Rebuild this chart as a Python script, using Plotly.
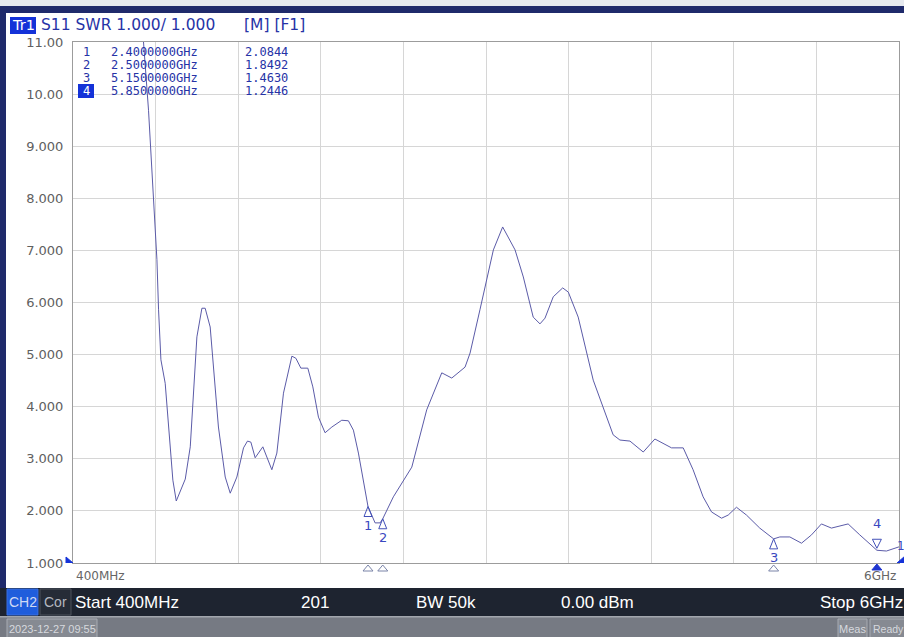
import plotly.graph_objects as go

# ---------------- data ----------------
freq_ghz = [0.40, 0.60, 0.80, 0.878, 0.912, 0.969, 0.980, 0.996, 1.025, 1.077,
            1.100, 1.161, 1.195, 1.240, 1.274, 1.296, 1.330, 1.386, 1.432, 1.466,
            1.511, 1.556, 1.583, 1.606, 1.635, 1.687, 1.748, 1.782, 1.827, 1.884,
            1.911, 1.945, 1.992, 2.026, 2.064, 2.109, 2.155, 2.222, 2.267, 2.301,
            2.335, 2.400, 2.448, 2.482, 2.500, 2.572, 2.697, 2.798, 2.900, 2.968,
            3.058, 3.092, 3.159, 3.250, 3.313, 3.397, 3.453, 3.520, 3.566, 3.600,
            3.656, 3.720, 3.758, 3.825, 3.927, 4.062, 4.108, 4.176, 4.266, 4.345,
            4.458, 4.537, 4.604, 4.672, 4.729, 4.797, 4.842, 4.898, 4.966, 5.056,
            5.150, 5.192, 5.260, 5.339, 5.407, 5.474, 5.542, 5.655, 5.734, 5.850,
            5.915, 6.000]
swr = [20.0, 16.0, 12.5, 11.0, 9.69, 6.82, 5.86, 4.90, 4.45, 2.59,
       2.19, 2.61, 3.23, 5.34, 5.89, 5.89, 5.53, 3.61, 2.65, 2.34,
       2.65, 3.21, 3.34, 3.32, 3.02, 3.23, 2.79, 3.11, 4.26, 4.97,
       4.93, 4.74, 4.74, 4.38, 3.80, 3.50, 3.61, 3.74, 3.73, 3.55,
       3.11, 2.0844, 1.77, 1.77, 1.8492, 2.27, 2.84, 3.94, 4.65, 4.55,
       4.76, 5.03, 5.86, 7.01, 7.45, 7.01, 6.49, 5.72, 5.59, 5.70,
       6.11, 6.28, 6.20, 5.72, 4.51, 3.46, 3.36, 3.34, 3.13, 3.38,
       3.21, 3.21, 2.79, 2.27, 1.98, 1.86, 1.92, 2.07, 1.92, 1.67,
       1.463, 1.50, 1.50, 1.38, 1.54, 1.75, 1.67, 1.75, 1.54, 1.2446,
       1.23, 1.31]

marker_ids = ["1", "2", "3", "4"]
marker_freq = [2.40, 2.50, 5.15, 5.85]
marker_swr = [2.0844, 1.8492, 1.4630, 1.2446]
marker_freq_text = ["2.4000000GHz", "2.5000000GHz", "5.1500000GHz", "5.8500000GHz"]
marker_swr_text = ["2.0844", "1.8492", "1.4630", "1.2446"]
active_marker = "4"

y_ticks = [1, 2, 3, 4, 5, 6, 7, 8, 9, 10, 11]
y_tick_labels = ["1.000", "2.000", "3.000", "4.000", "5.000", "6.000",
                 "7.000", "8.000", "9.000", "10.00", "11.00"]
x_start, x_stop, x_div = 0.4, 6.0, 10
y_ref = 1.0

header_title = "S11 SWR 1.000/ 1.000"
header_flags = "[M] [F1]"
start_label, stop_label = "400MHz", "6GHz"
status_items = ["Start 400MHz", "201", "BW 50k", "0.00 dBm", "Stop 6GHz"]
timestamp = "2023-12-27 09:55"

# ---------------- geometry ----------------
W, H = 904, 637
L, R, T, B = 73, 899, 42, 563


def px(x):
    return (x - L) / (R - L)


def py(y):
    return (B - y) / (B - T)


SANS = "DejaVu Sans"
ARIAL = "Liberation Sans"
MONO = "DejaVu Sans Mono"
BLUE_TXT = "#2633a6"
TRACE = "#5b5ba8"

shapes = []
ann = []


def rect(x0, y0, x1, y1, fill, line=None, lw=1):
    shapes.append(dict(type="rect", xref="paper", yref="paper",
                       x0=px(x0), x1=px(x1), y0=py(y1), y1=py(y0),
                       fillcolor=fill, line=dict(color=line or fill, width=lw if line else 0),
                       layer="above"))


def txt(x, y, s, size, color, family=SANS, xa="left", ya="middle"):
    ann.append(dict(xref="paper", yref="paper", x=px(x), y=py(y), text=s,
                    showarrow=False, xanchor=xa, yanchor=ya, borderpad=0,
                    font=dict(size=size, color=color, family=family)))


fig = go.Figure()
fig.add_trace(go.Scatter(x=freq_ghz, y=swr, mode="lines",
                         line=dict(color=TRACE, width=1), hoverinfo="skip"))

# ---- window chrome ----
rect(0, 0, W, 6, "#e6e9ef")
rect(0, 6, W, 13, "#1f2a6b")
rect(0, 6, 6, 588, "#1f2a6b")

# header
rect(10, 17, 36, 34, "#1432d8")
txt(11, 25.5, "Tr1", 14.5, "white")
txt(40, 25.5, header_title, 15.5, BLUE_TXT)
txt(243, 25.5, header_flags, 15.5, BLUE_TXT)

# marker table
row_y = [52, 65, 78, 91]
for mid, ft, vt, yy in zip(marker_ids, marker_freq_text, marker_swr_text, row_y):
    col = BLUE_TXT
    if mid == active_marker:
        rect(78, yy - 7, 94, yy + 7, "#1432d8")
        col = "white"
    txt(86, yy, mid, 12, col, MONO, xa="center")
    txt(110, yy, ft, 12, BLUE_TXT, MONO)
    txt(244, yy, vt, 12, BLUE_TXT, MONO)

# start / stop labels
txt(75, 576, start_label, 12, "#666666")
txt(897, 576, stop_label, 12, "#666666", xa="right")
txt(896, 546, "1", 12, "#3a48c0")

# status bar
rect(0, 588, W, 616, "#1e2430")
rect(7, 589, 38, 615, "#1f5ddc", "#3a70e0")
txt(22.5, 602, "CH2", 14, "#cfdaf5", ARIAL, xa="center")
rect(40, 589, 71, 615, "#262c37", "#4c525d")
txt(55.5, 602, "Cor", 14, "#b4b8c0", ARIAL, xa="center")
txt(74, 602, status_items[0], 17, "white", ARIAL)
txt(300, 602, status_items[1], 17, "white", ARIAL)
txt(415, 602, status_items[2], 17, "white", ARIAL)
txt(560, 602, status_items[3], 17, "white", ARIAL)
txt(904, 602, status_items[4], 17, "white", ARIAL, xa="right")

# bottom bar
rect(0, 616, W, H, "#767a83")
rect(0, 616, W, 617.5, "#a2a6ad")
rect(7, 619, 97, H + 2, "#868a92", "#a8acb3")
txt(52, 628.5, timestamp, 11, "#d6d9de", ARIAL, xa="center")
rect(838, 619, 867, H + 2, "#868a92", "#a8acb3")
txt(852.5, 628.5, "Meas", 11, "#d6d9de", ARIAL, xa="center")
rect(870, 619, 906, H + 2, "#868a92", "#a8acb3")
txt(872, 628.5, "Ready", 10.5, "#d6d9de", ARIAL)

# reference level indicators
shapes.append(dict(type="path", xref="paper", yref="y", xsizemode="pixel", ysizemode="pixel",
                   xanchor=0, yanchor=y_ref, path="M-7,6 L0,0 L-7,-6 Z",
                   fillcolor="#1432d8", line=dict(color="#1432d8", width=1), layer="above"))
shapes.append(dict(type="path", xref="paper", yref="y", xsizemode="pixel", ysizemode="pixel",
                   xanchor=1, yanchor=y_ref, path="M-2,0 L6,-7 L6,7 Z",
                   fillcolor="#1432d8", line=dict(color="#1432d8", width=1), layer="above"))

# markers on trace and below axis
for mid, f, v in zip(marker_ids, marker_freq, marker_swr):
    active = (mid == active_marker)
    tri = "M0,2 L-4.5,11 L4.5,11 Z" if active else "M0,0 L-4,-10 L4,-10 Z"
    shapes.append(dict(type="path", xref="x", yref="y", xsizemode="pixel", ysizemode="pixel",
                       xanchor=f, yanchor=v, path=tri,
                       line=dict(color="#4250b8", width=1), layer="above"))
    ann.append(dict(xref="x", yref="y", x=f, y=v, text=mid, showarrow=False,
                    xanchor="center", yanchor="bottom" if active else "top",
                    yshift=18 if active else -10, borderpad=0,
                    font=dict(size=13, color="#3a48c0", family=SANS)))
    if active:
        shapes.append(dict(type="path", xref="x", yref="paper", xsizemode="pixel", ysizemode="pixel",
                           xanchor=f, yanchor=0, path="M0,-1 L-5,-7 L5,-7 Z",
                           fillcolor="#1f35d0", line=dict(color="#1f35d0", width=1), layer="above"))
    else:
        shapes.append(dict(type="path", xref="x", yref="paper", xsizemode="pixel", ysizemode="pixel",
                           xanchor=f, yanchor=0, path="M0,-2 L-5,-8 L5,-8 Z",
                           line=dict(color="#7a84a8", width=1), layer="above"))

fig.update_layout(
    width=W, height=H, autosize=False,
    margin=dict(l=L, r=W - R, t=T, b=H - B, pad=0),
    paper_bgcolor="white", plot_bgcolor="white",
    showlegend=False,
    shapes=shapes, annotations=ann,
    xaxis=dict(range=[x_start, x_stop], tick0=x_start, dtick=(x_stop - x_start) / x_div,
               showgrid=True, gridcolor="#d6d6d6", gridwidth=1,
               showticklabels=False, ticks="", zeroline=False,
               showline=True, linecolor="#9c9c9c", linewidth=1, mirror=True),
    yaxis=dict(range=[y_ticks[0], y_ticks[-1]], tickvals=y_ticks, ticktext=y_tick_labels,
               showgrid=True, gridcolor="#d6d6d6", gridwidth=1, ticks="",
               zeroline=False, showline=True, linecolor="#9c9c9c", linewidth=1, mirror=True,
               tickfont=dict(family=SANS, size=13, color="#606060"),
               ticklabelstandoff=6),
)

fig.write_html("out.html")
